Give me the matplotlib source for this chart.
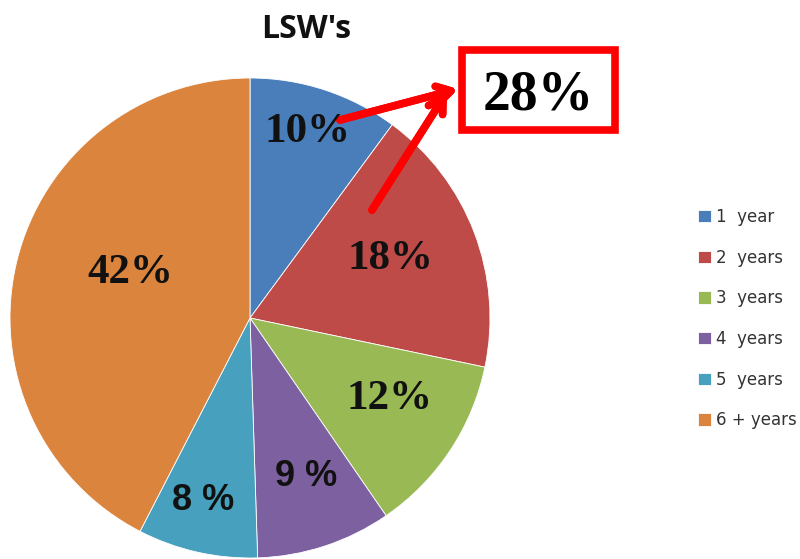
import matplotlib.pyplot as plt
from matplotlib.patches import Rectangle

categories = ['1  year', '2  years', '3  years', '4  years', '5  years', '6 + years']
values = [10, 18, 12, 9, 8, 42]
slice_labels = ['10%', '18%', '12%', '9 %', '8 %', '42%']
colors = ['#4A7EBB', '#BE4B48', '#98B954', '#7D60A0', '#46A0BE', '#DB843D']
label_serif = [True, True, True, False, False, True]

fig = plt.figure(figsize=(8, 5.59), dpi=100)
W, H = 800, 559

# pie axes: centre ~ (250, 318) px, radius ~240 px
ax = fig.add_axes([10 / W, 1 / H, 480 / W, 480 / H])
wedges, _ = ax.pie(values, colors=colors, startangle=90, counterclock=False,
                   wedgeprops=dict(linewidth=0.6, edgecolor='white'))
ax.set_aspect('equal')
ax.set_xlim(-1, 1)
ax.set_ylim(-1, 1)

# label positions in pixel coords (centre of text)
label_pos = [(308, 132), (390, 259), (390, 399), (306, 477), (203, 501), (130, 273)]
for txt, (px, py), serif in zip(slice_labels, label_pos, label_serif):
    if serif:
        fig.text(px / W, 1 - py / H, txt, ha='center', va='center',
                 fontsize=31, fontweight='bold', family='Liberation Serif', color='#111111')
    else:
        fig.text(px / W, 1 - py / H, txt, ha='center', va='center',
                 fontsize=26, fontweight='bold', family='Liberation Sans', color='#111111')

fig.text(306 / W, 1 - 30 / H, "LSW's", ha='center', va='center',
         fontsize=23, fontweight='bold', family='Open Sans', color='#111111')

# highlighted total box
fig.patches.append(Rectangle((462 / W, 1 - 130 / H), 153 / W, 80 / H,
                             transform=fig.transFigure, fill=False,
                             edgecolor='#FF0000', linewidth=5.5))
fig.text(538 / W, 1 - 96 / H, '28%', ha='center', va='center',
         fontsize=40, fontweight='bold', family='Liberation Serif', color='black')

arrow = dict(arrowstyle='->,head_length=1.0,head_width=0.6', color='#FF0000',
             linewidth=5.5, shrinkA=0, shrinkB=0)
fig.add_artist(plt.annotate('', xy=(458 / W, 1 - 89 / H), xytext=(340 / W, 1 - 120 / H),
                            xycoords='figure fraction', arrowprops=arrow))
fig.add_artist(plt.annotate('', xy=(447 / W, 1 - 92 / H), xytext=(372 / W, 1 - 210 / H),
                            xycoords='figure fraction', arrowprops=arrow))

leg = fig.legend(wedges, categories, loc='upper left', bbox_to_anchor=(698 / W, 1 - 208 / H),
                 frameon=False, handlelength=0.75, handleheight=0.75, handletextpad=0.3,
                 labelspacing=1.36, borderpad=0, borderaxespad=0,
                 prop=dict(family='DejaVu Sans', size=12))
for t in leg.get_texts():
    t.set_color('#333333')

fig.savefig('out.png', dpi=100)
